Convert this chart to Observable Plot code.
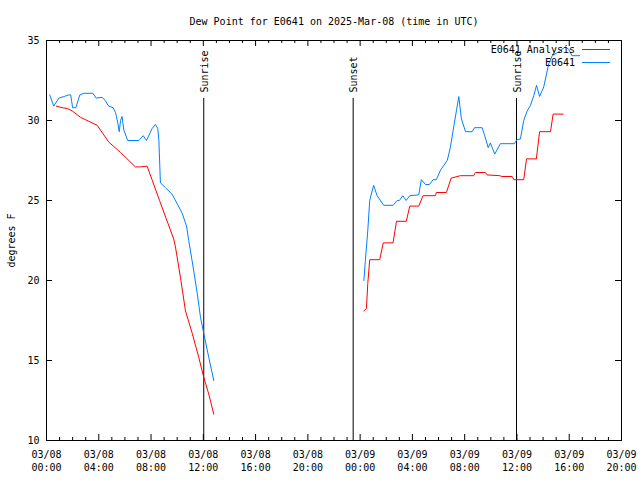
<!DOCTYPE html>
<html><head><meta charset="utf-8">
<script src="https://cdn.jsdelivr.net/npm/d3@7"></script>
<script src="https://cdn.jsdelivr.net/npm/@observablehq/plot@0.6"></script>
<style>
body{margin:0;background:#fff;}
#wrap{position:relative;width:640px;height:480px;font-family:"DejaVu Sans Mono",monospace;font-size:10px;color:#000;}
.lg{position:absolute;height:13px;line-height:13px;white-space:pre;}
.lgtext{position:absolute;right:65px;text-align:right;}
.lgline{position:absolute;left:582px;width:28px;height:0;}
</style></head><body><div id="wrap"></div>
<script>
const chartTitle = "Dew Point for E0641 on 2025-Mar-08 (time in UTC)";
const yLabel = "degrees F";
const seriesNames = ["E0641 Analysis", "E0641"];
const seriesColors = ["#ff0000", "#0080ff"];

const stationTimes = [
 "2025-03-08T00:15","2025-03-08T00:33","2025-03-08T00:57","2025-03-08T01:21","2025-03-08T01:42","2025-03-08T01:51",
 "2025-03-08T02:00","2025-03-08T02:15","2025-03-08T02:33","2025-03-08T02:51","2025-03-08T03:33","2025-03-08T03:48",
 "2025-03-08T04:15","2025-03-08T04:30","2025-03-08T04:45","2025-03-08T05:06","2025-03-08T05:17","2025-03-08T05:28",
 "2025-03-08T05:34","2025-03-08T05:40","2025-03-08T05:47","2025-03-08T05:55","2025-03-08T06:13","2025-03-08T07:04",
 "2025-03-08T07:24","2025-03-08T07:39","2025-03-08T08:05","2025-03-08T08:20","2025-03-08T08:31","2025-03-08T08:36",
 "2025-03-08T08:43","2025-03-08T09:06","2025-03-08T09:36","2025-03-08T10:00","2025-03-08T10:23","2025-03-08T10:43",
 "2025-03-08T10:53","2025-03-08T11:16","2025-03-08T11:32","2025-03-08T11:47","2025-03-08T12:02","2025-03-08T12:25",
 "2025-03-08T12:48",
 "2025-03-08T18:00",
 "2025-03-09T00:17","2025-03-09T00:24","2025-03-09T00:35","2025-03-09T00:44","2025-03-09T01:02","2025-03-09T01:18",
 "2025-03-09T01:48","2025-03-09T02:31","2025-03-09T02:50","2025-03-09T03:00","2025-03-09T03:16","2025-03-09T03:31",
 "2025-03-09T03:48","2025-03-09T04:29","2025-03-09T04:41","2025-03-09T05:00","2025-03-09T05:18","2025-03-09T05:35",
 "2025-03-09T05:50","2025-03-09T06:09","2025-03-09T06:40","2025-03-09T06:54","2025-03-09T07:06","2025-03-09T07:22",
 "2025-03-09T07:33","2025-03-09T07:45","2025-03-09T08:04","2025-03-09T08:34","2025-03-09T08:45","2025-03-09T09:20",
 "2025-03-09T09:32","2025-03-09T09:48","2025-03-09T09:58","2025-03-09T10:18","2025-03-09T10:44","2025-03-09T11:48",
 "2025-03-09T12:00","2025-03-09T12:16","2025-03-09T12:31","2025-03-09T12:47","2025-03-09T13:02","2025-03-09T13:17",
 "2025-03-09T13:30","2025-03-09T13:44","2025-03-09T14:03","2025-03-09T14:26","2025-03-09T14:42","2025-03-09T15:12",
 "2025-03-09T15:42","2025-03-09T15:58","2025-03-09T16:12","2025-03-09T16:48"
];
const stationValues = [
 31.6,30.9,31.4,31.5,31.6,31.6,
 30.8,30.8,31.6,31.7,31.7,31.4,
 31.45,31.25,30.9,30.8,30.5,29.8,
 29.3,30.0,30.25,29.4,28.75,28.75,
 29.05,28.75,29.5,29.75,29.5,28.75,
 26.1,25.8,25.4,24.8,24.2,23.4,
 22.5,20.6,19.2,17.7,16.7,15.2,
 13.75,
 null,
 20.0,21.25,23.1,25.0,25.95,25.3,
 24.7,24.7,25.0,25.0,25.3,25.0,
 25.3,25.35,26.3,26.0,26.0,26.3,
 26.3,26.9,27.5,28.3,29.3,30.6,
 31.5,30.1,29.3,29.3,29.55,29.55,
 29.05,28.3,28.6,27.9,28.55,28.55,
 28.8,28.85,30.0,30.6,30.95,31.55,
 32.2,31.5,32.1,33.55,34.05,34.3,
 34.6,34.45,34.05,34.05
];

const analysisTimes = [
 "2025-03-08T00:45","2025-03-08T01:12","2025-03-08T01:35","2025-03-08T01:58","2025-03-08T02:36","2025-03-08T03:14",
 "2025-03-08T03:53","2025-03-08T04:08","2025-03-08T04:46","2025-03-08T05:40","2025-03-08T06:18","2025-03-08T06:48",
 "2025-03-08T07:12","2025-03-08T07:42","2025-03-08T08:39","2025-03-08T09:44","2025-03-08T09:52","2025-03-08T10:15",
 "2025-03-08T10:38","2025-03-08T11:09","2025-03-08T11:39","2025-03-08T12:02","2025-03-08T12:25","2025-03-08T12:48",
 "2025-03-08T18:00",
 "2025-03-09T00:17","2025-03-09T00:29","2025-03-09T00:35","2025-03-09T00:44","2025-03-09T01:30","2025-03-09T01:46",
 "2025-03-09T02:31","2025-03-09T02:47","2025-03-09T03:32","2025-03-09T03:48","2025-03-09T04:29","2025-03-09T04:49",
 "2025-03-09T05:46","2025-03-09T05:50","2025-03-09T06:36","2025-03-09T06:58","2025-03-09T07:40","2025-03-09T08:41",
 "2025-03-09T08:49","2025-03-09T09:35","2025-03-09T09:43","2025-03-09T10:41","2025-03-09T10:51","2025-03-09T11:38",
 "2025-03-09T11:46","2025-03-09T12:31","2025-03-09T12:44","2025-03-09T13:29","2025-03-09T13:44","2025-03-09T14:34",
 "2025-03-09T14:46","2025-03-09T15:32"
];
const analysisValues = [
 30.9,30.8,30.75,30.6,30.2,29.95,
 29.7,29.4,28.65,28.0,27.5,27.1,
 27.1,27.15,25.0,22.6,22.1,20.2,
 18.1,16.7,15.2,13.95,12.9,11.65,
 null,
 18.1,18.25,19.8,21.3,21.3,22.35,
 22.35,23.7,23.7,24.65,24.65,25.3,
 25.3,25.5,25.5,26.4,26.55,26.55,
 26.75,26.75,26.6,26.55,26.5,26.5,
 26.3,26.3,27.6,27.6,29.3,29.3,
 30.4,30.4
];

const eventTimes = ["2025-03-08T12:02", "2025-03-08T23:28", "2025-03-09T11:58"];
const eventLabels = ["Sunrise", "Sunset", "Sunrise"];
const xDomain = ["2025-03-08T00:00", "2025-03-09T20:00"];
const yDomain = [10, 35];
const yTicks = [10, 15, 20, 25, 30, 35];

const parse = d3.utcParse("%Y-%m-%dT%H:%M");
const station = stationTimes.map((t, i) => ({time: parse(t), value: stationValues[i]}));
const analysis = analysisTimes.map((t, i) => ({time: parse(t), value: analysisValues[i]}));
const events = eventTimes.map((t, i) => ({time: parse(t), label: eventLabels[i]}));
const x0 = parse(xDomain[0]), x1 = parse(xDomain[1]);
const majorTicks = d3.utcHour.every(4).range(x0, new Date(+x1 + 1));
const minorTicks = d3.utcHour.range(x0, x1).filter(d => d.getUTCHours() % 4 !== 0);
const fmt = d3.utcFormat("%m/%d\n%H:%M");

const W = 640, H = 480, mL = 46, mR = 19, mT = 40, mB = 40;
const fw = W - mL - mR, fh = H - mT - mB;

const chart = Plot.plot({
  width: W, height: H,
  marginLeft: mL, marginRight: mR, marginTop: mT, marginBottom: mB,
  style: {fontFamily: "'DejaVu Sans Mono', monospace", fontSize: "10px", background: "#fff", color: "#000"},
  x: {type: "utc", domain: [x0, x1]},
  y: {domain: yDomain},
  marks: [
    Plot.ruleX(events, {x: "time", stroke: "black", insetTop: 58}),
    Plot.text(events, {x: "time", text: "label", rotate: -90, frameAnchor: "top", textAnchor: "start", dy: 52, dx: -3, fontSize: 10}),
    Plot.line(analysis, {x: "time", y: "value", stroke: seriesColors[0], strokeWidth: 1}),
    Plot.line(station, {x: "time", y: "value", stroke: seriesColors[1], strokeWidth: 1}),
    Plot.frame({stroke: "black"}),
    Plot.tickX(minorTicks, {x: d => d, stroke: "black", insetTop: fh - 3}),
    Plot.tickX(minorTicks, {x: d => d, stroke: "black", insetBottom: fh - 3}),
    Plot.tickX(majorTicks, {x: d => d, stroke: "black", insetTop: fh - 6}),
    Plot.tickX(majorTicks, {x: d => d, stroke: "black", insetBottom: fh - 6}),
    Plot.tickY(yTicks, {y: d => d, stroke: "black", insetRight: fw - 6}),
    Plot.tickY(yTicks, {y: d => d, stroke: "black", insetLeft: fw - 6}),
    Plot.axisX(majorTicks, {tickSize: 0, tickPadding: 8, tickFormat: fmt, lineHeight: 1.3, label: null, fontSize: 10}),
    Plot.axisY(yTicks, {tickSize: 0, tickPadding: 7, label: null, fontSize: 10}),
    Plot.text([chartTitle], {frameAnchor: "top", dy: -23, fontSize: 10}),
    Plot.text([yLabel], {frameAnchor: "left", textAnchor: "middle", rotate: -90, dx: -35, fontSize: 10})
  ]
});

const wrap = document.getElementById("wrap");
wrap.appendChild(chart);
const rowsY = [43, 56];
seriesNames.forEach((name, i) => {
  const t = document.createElement("div");
  t.className = "lg lgtext";
  t.style.top = rowsY[i] + "px";
  t.textContent = name;
  wrap.appendChild(t);
  const l = document.createElement("div");
  l.className = "lgline";
  l.style.top = (rowsY[i] + 6) + "px";
  l.style.borderTop = "1px solid " + seriesColors[i];
  wrap.appendChild(l);
});
</script></body></html>
